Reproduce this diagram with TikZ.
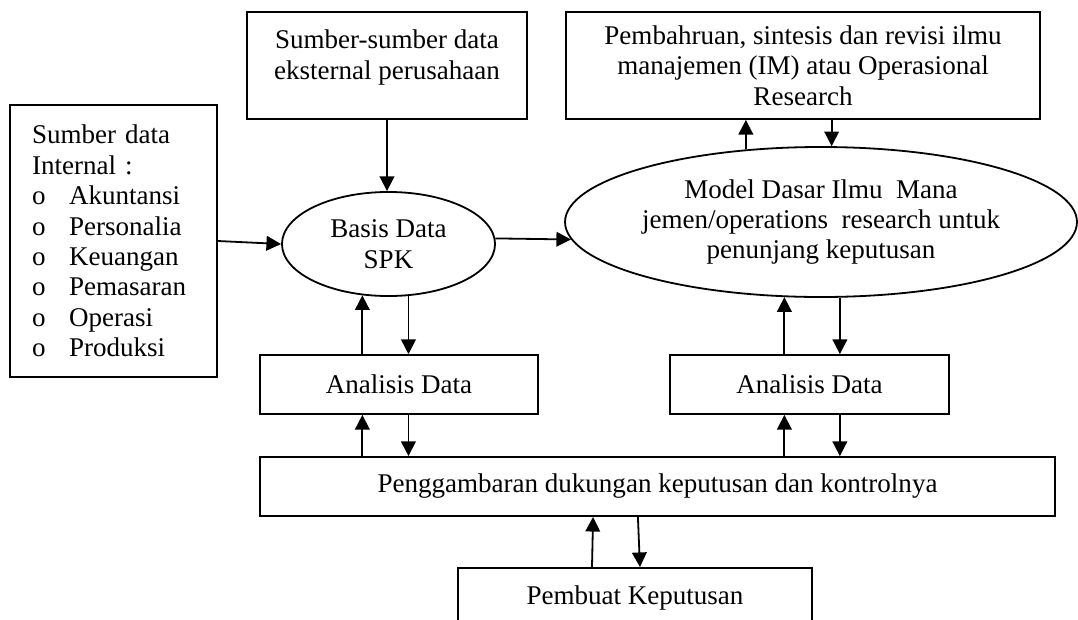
\documentclass[tikz,border=0pt]{standalone}
\usepackage{fontspec}
\setmainfont{Liberation Serif}
\usetikzlibrary{arrows.meta, shapes.geometric}
\newcommand{\bul}{\makebox[16.4pt][l]{o}}

\begin{document}
\begin{tikzpicture}[x=0.444pt, y=-0.444pt, line width=0.8pt,
    every node/.style={font=\fontsize{12}{13.5}\selectfont},
    box/.style={rectangle, draw, align=center, inner sep=0pt},
    oval/.style={ellipse, draw, align=center, inner sep=0pt},
    link/.style={-{Triangle[length=6.5pt, width=6.5pt]}}]
    \useasboundingbox (0,0) rectangle (1078,619);

    \node[box, align=left, inner xsep=9.8pt, text width=72.3pt, minimum height=120.8pt] (intern) at (113.5,241)
        {Sumber data\\ Internal :\\ \bul Akuntansi\\ \bul Personalia\\ \bul Keuangan\\ \bul Pemasaran\\ \bul Operasi\\ \bul Produksi};
    \node[box, minimum width=124.3pt, minimum height=47.5pt] (ext) at (387,65.5) {Sumber-sumber data\\ eksternal perusahaan\\[-4pt] \mbox{}};
    \node[box, minimum width=210.5pt, minimum height=47.5pt] (pemb) at (803,65.5) {Pembahruan, sintesis dan revisi ilmu\\ manajemen (IM) atau Operasional\\ Research};
    \node[oval, minimum width=94.6pt, minimum height=46.2pt] (basis) at (388.5,244) {Basis Data\\ SPK};
    \node[oval, minimum width=227.3pt, minimum height=66.6pt] (model) at (821,222) {Model Dasar Ilmu\ \ Mana\\ jemen/operations\ \ research untuk\\ penunjang keputusan};
    \node[box, minimum width=123.4pt, minimum height=26.2pt] (anaL) at (399,384.5) {Analisis Data};
    \node[box, minimum width=123.9pt, minimum height=26.2pt] (anaR) at (809.5,384.5) {Analisis Data};
    \node[box, minimum width=353pt, minimum height=26.2pt] (peng) at (657.5,486.5) {Penggambaran dukungan keputusan dan kontrolnya};
    \node[box, minimum width=157.2pt, minimum height=26.2pt] (buat) at (635,597.5) {Pembuat Keputusan};

    \draw[link] (ext.south) -- (ext.south |- basis.north);
    \draw[link] (intern.east) -- (basis.west);
    \draw[link] (basis.3) -- (model.184);
    \draw[link] (model.136) -- (model.136 |- pemb.south);
    \draw[link] (model.82 |- pemb.south) -- (model.82);
    \draw[link] (anaL.north -| basis.243) -- (basis.243);
    \draw[link] (basis.291) -- (basis.291 |- anaL.north);
    \draw[link] (anaR.north -| model.244) -- (model.244);
    \draw[link] (model.284) -- (model.284 |- anaR.north);
    \draw[link] (peng.north -| basis.243) -- (basis.243 |- anaL.south);
    \draw[link] (basis.291 |- anaL.south) -- (basis.291 |- peng.north);
    \draw[link] (peng.north -| model.244) -- (model.244 |- anaR.south);
    \draw[link] (model.284 |- anaR.south) -- (model.284 |- peng.north);
    \draw[link] ([xshift=-19.1pt]buat.north) -- ([xshift=-28.6pt]peng.south);
    \draw[link] ([xshift=-8.7pt]peng.south) -- ([xshift=2.2pt]buat.north);
\end{tikzpicture}
\end{document}
